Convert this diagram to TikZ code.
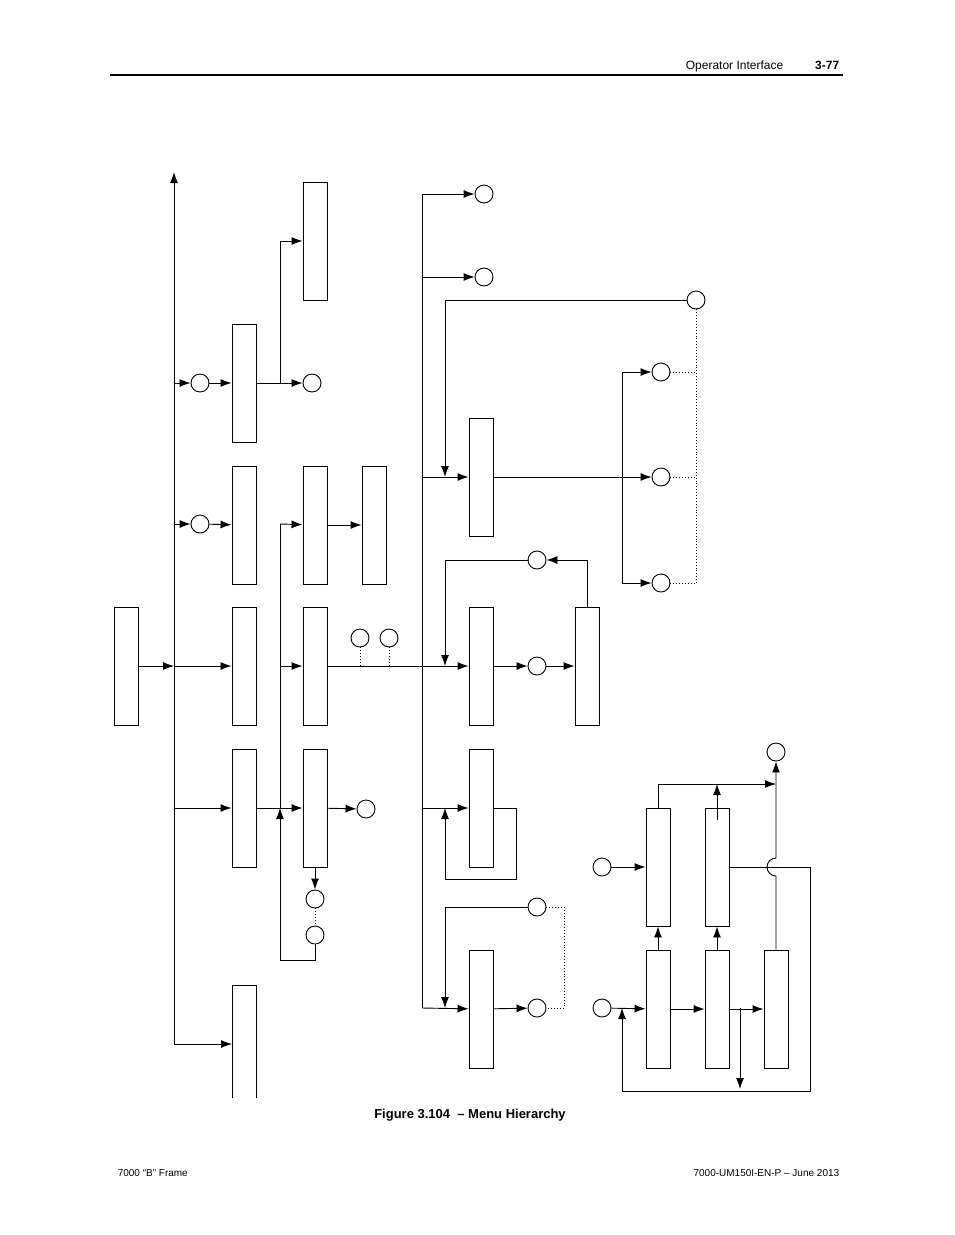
\documentclass[tikz,border=0pt]{standalone}
\usepackage{fontspec}
\setmainfont{Liberation Sans}
\usetikzlibrary{positioning,calc,arrows.meta}
\begin{document}
\begin{tikzpicture}[
    x=1pt, y=-1pt,
    >={Latex[length=11pt,width=8pt]},
    block/.style={draw, rectangle, minimum height=118pt, minimum width=24pt, inner sep=0pt},
    port/.style={draw, circle, minimum size=18pt, inner sep=0pt},
    every path/.style={line width=0.9pt}
]
\useasboundingbox (0,0) rectangle (954,1235);

% Page header and footer
\node[anchor=base east, font=\fontsize{12}{14}\selectfont] (hdr) at (787,69) {Operator Interface};
\node[anchor=base east, font=\fontsize{12}{14}\selectfont\bfseries] (pg) at (843,69) {3-77};
\draw[line width=2.5pt] (110,75) -- (843,75);
\node[anchor=base, font=\fontsize{13}{15}\selectfont\bfseries] (cap) at (470,1118) {Figure 3.104 \ – Menu Hierarchy};
\node[anchor=base west, font=\fontsize{10}{12}\selectfont] (fl) at (114,1176) {7000 “B” Frame};
\node[anchor=base east, font=\fontsize{10}{12}\selectfont] (fr) at (843,1176) {7000-UM150I-EN-P – June 2013};

% Blocks
\node[block] (root) at (126,666) {};
\node[block] (a1) at (244,383) {};
\node[block] (a2) at (244,525) {};
\node[block] (a3) at (244,666) {};
\node[block] (a4) at (244,808) {};
\node[block] (b1) at (315,241) {};
\node[block] (b2) at (315,525) {};
\node[block] (b3) at (315,666) {};
\node[block] (b4) at (315,808) {};
\node[block] (c2) at (374,525) {};
\node[block] (d1) at (481,477) {};
\node[block] (d2) at (481,666) {};
\node[block] (d3) at (481,808) {};
\node[block] (d4) at (481,1009) {};
\node[block] (e2) at (587,666) {};
\node[block] (p1) at (658,867) {};
\node[block] (p2) at (717,867) {};
\node[block] (q1) at (658,1009) {};
\node[block] (q2) at (717,1009) {};
\node[block] (q3) at (776,1009) {};
\draw (232,1098) -- (232,985) -- (256,985) -- (256,1098);

% Ports
\node[port] (ca1) at (200,383) {};
\node[port] (ca2) at (200,524) {};
\node[port] (cb1) at (312,383) {};
\node[port] (cb4) at (366,809) {};
\node[port] (cs1) at (315,899) {};
\node[port] (cs2) at (315,935) {};
\node[port] (cm1) at (360,638) {};
\node[port] (cm2) at (389,638) {};
\node[port] (cd1) at (484,194) {};
\node[port] (cd2) at (484,277) {};
\node[port] (cr0) at (696,300) {};
\node[port] (cr1) at (661,372) {};
\node[port] (cr2) at (661,477) {};
\node[port] (cr3) at (661,583) {};
\node[port] (ce1) at (537,560) {};
\node[port] (ce2) at (537,666) {};
\node[port] (cf1) at (537,907) {};
\node[port] (cf2) at (537,1008) {};
\node[port] (cg0) at (776,752) {};
\node[port] (cg1) at (602,867) {};
\node[port] (cg2) at (602,1008) {};

% Main spine
\draw[->] (174,1044) -- (174,172);
\draw[->] (root.east) -- (174,666);
\draw[->] (174,383) -- (ca1);
\draw[->] (ca1) -- (a1);
\draw[->] (174,524) -- (ca2);
\draw[->] (ca2) -- (a2);
\draw[->] (174,666) -- (a3);
\draw[->] (174,808) -- (a4);
\draw[->] (174,1044) -- (232,1044);

% Second column
\draw[->] (a1) -- (cb1);
\draw[->] (280,383) |- (b1);
\draw (280,524) -- (280,808);
\draw[->] (280,524) -- (b2);
\draw[->] (280,666) -- (b3);
\draw[->] (a4) -- (b4);
\draw[->] (cs2.south) |- (280,960) -- (280,808);
\draw[->] (b4) -- (cs1);
\draw[dotted] (cs1) -- (cs2);
\draw[->] (b4) -- (cb4);
\draw[->] (b2) -- (c2);

% Third column
\draw[->] (b3) -- (d2);
\draw[dotted] (cm1) -- (cm1 |- b3);
\draw[dotted] (cm2) -- (cm2 |- b3);
\draw (422,194) -- (422,1008);
\draw[->] (422,194) -- (cd1);
\draw[->] (422,277) -- (cd2);
\draw[->] (422,477) -- (d1);
\draw[->] (422,808) -- (d3);
\draw[->] (422,1008) -- (d4);
\draw[->] (cr0.west) -| (445,477);
\draw[->] (d1) -- (cr2);
\draw[->] (622,477) |- (cr1);
\draw[->] (622,477) |- (cr3);
\draw[dotted] (cr0) -- (696,583);
\draw[dotted] (cr1) -- (696,372);
\draw[dotted] (cr2) -- (696,477);
\draw[dotted] (cr3) -- (696,583);
\draw[->] (d2) -- (ce2);
\draw[->] (ce2) -- (e2);
\draw[->] (e2.north) |- (ce1);
\draw[->] (ce1.west) -| (445,666);
\draw[->] (d3.east) -- (516,808) |- (445,879) -- (445,808);
\draw[->] (cf1.west) -| (445,1008);
\draw[->] (d4) -- (cf2);
\draw[dotted] (cf1.east) -| (564,1008) -- (cf2.east);

% Lower right group
\draw[->] (cg1) -- (p1);
\draw[->] (cg2) -- (q1);
\draw[->] (q1) -- (p1);
\draw[->] (q2) -- (p2);
\draw[->] (q1) -- (q2);
\draw[->] (q2) -- (q3);
\draw[->] (740,1008) -- (740,1089);
\draw[->] (p1.north) |- (776,784);
\draw[->] (717,820) -- (717,784);
\draw[->] (q3.north) -- (776,876) arc[start angle=90, end angle=270, radius=9] -- (cg0);
\draw[->] (p2.east) -- (810,867) |- (622,1091) -- (622,1008);
\end{tikzpicture}
\end{document}
